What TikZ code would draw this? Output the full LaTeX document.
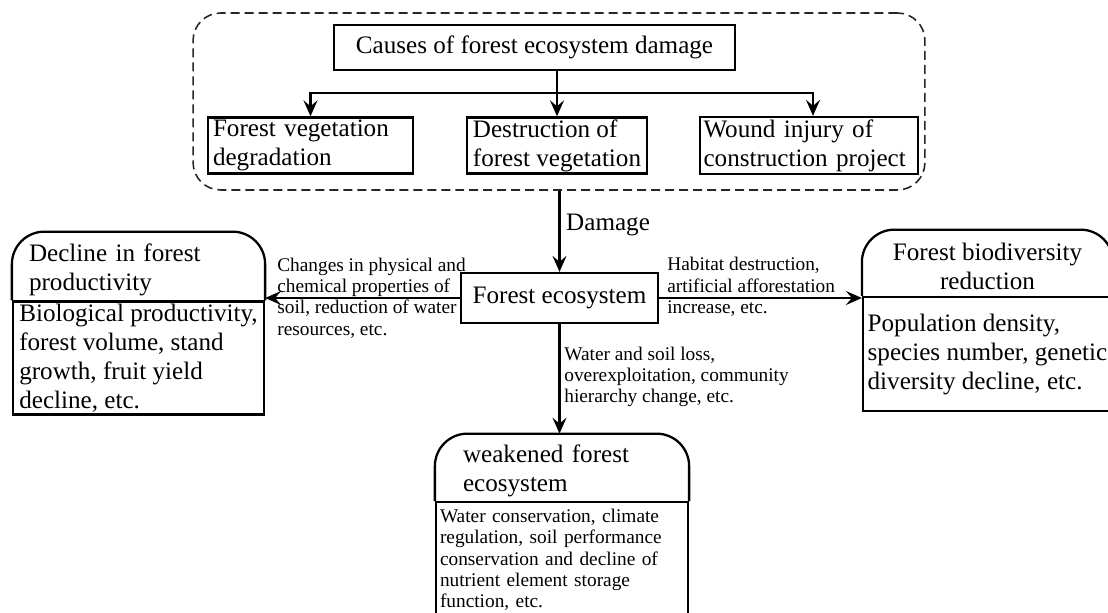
\documentclass[tikz,border=0pt]{standalone}
\usepackage{fontspec}
\setmainfont{Liberation Serif}
\usepackage{tikz}
\usetikzlibrary{arrows.meta}
\usetikzlibrary{positioning}
\tikzset{
  BigText/.style={font=\fontsize{14.3}{16.5}\selectfont},
  SmallText/.style={font=\fontsize{11}{12.1}\selectfont},
  BoxLine/.style={draw=black, line width=1.3pt},
  MyBox/.style={
    rectangle, BoxLine, fill=white,
    BigText, align=left,
  },
  MyHead/.style={
    rectangle, BigText, inner ysep=0.05cm,
  },
  MyGroup/.style={
    rectangle, rounded corners=0.55cm,
    draw=black!85, line width=0.9pt,
    dash pattern=on 0.18cm off 0.1cm,
  },
  MyArrow/.style={
    -{Stealth[length=0.32cm, width=0.28cm, inset=0.12cm]},
    draw=black, line width=1.2pt,
  },
  MyLabel/.style={SmallText, align=left, inner sep=0pt, anchor=west},
}

\begin{document}
\begin{tikzpicture}[x=0.02cm, y=-0.02cm]
\useasboundingbox (0,0) rectangle (1108,612);
\clip (0,0) rectangle (1108,612);
\node[MyGroup, minimum width=14.64cm, minimum height=3.54cm] (CAUSEGRP) at (559,101.5) {};
\node[MyBox, minimum width=8.02cm, minimum height=0.9cm, align=center] (CAUSES) at (534.5,47.5) {Causes of forest ecosystem damage};
\node[MyBox, minimum width=4.1cm, minimum height=1.1cm, text width=3.9cm, inner xsep=0.1cm, inner ysep=0.05cm] (DEGRAD) at (310.5,145.5) {Forest vegetation\\degradation};
\node[MyBox, minimum width=3.6cm, minimum height=1.1cm, inner sep=0.04cm] (DESTR) at (557,145.5) {Destruction of\\forest vegetation};
\node[MyBox, minimum width=4.36cm, minimum height=1.1cm, text width=4.22cm, inner xsep=0.07cm, inner ysep=0.05cm] (WOUND) at (809,145.5) {Wound injury of\\construction project};
\coordinate (BRANCH) at (557,93);
\node[BigText, anchor=west] (DAMAGE) at (560,225) {Damage};
\node[MyLabel] (SOILTXT) at (277,298) {Changes in physical and\\chemical properties of\\soil, reduction of water\\resources, etc.};
\node[MyLabel] (HABTXT) at (667,287) {Habitat destruction,\\artificial afforestation\\increase, etc.};
\node[MyLabel] (LOSSTXT) at (564,377) {Water and soil loss,\\overexploitation, community\\hierarchy change, etc.};
\node[MyBox, minimum width=3.94cm, minimum height=1cm, align=center] (ECO) at (559.5,298) {Forest ecosystem};
\node[MyHead, minimum width=5.02cm, minimum height=1.52cm, text width=4.38cm, inner xsep=0.32cm, align=left] (DECLHEAD) at (138.5,270) {Decline in forest\\productivity};
\node[MyBox, minimum width=5.02cm, minimum height=2.26cm, inner ysep=0.02cm] (DECLBODY) at (138.5,358) {Biological productivity,\\forest volume, stand\\growth, fruit yield\\decline, etc.};
\draw[BoxLine, rounded corners=0.65cm] (DECLBODY.north west) |- (DECLHEAD.north) -| (DECLBODY.north east);
\node[MyHead, minimum width=4.98cm, minimum height=1.46cm, align=center] (BIOHEAD) at (987.5,266.5) {Forest biodiversity\\reduction};
\node[MyBox, minimum width=4.98cm, minimum height=2.28cm, inner xsep=0.02cm, inner ysep=0.02cm] (BIOBODY) at (987.5,354) {Population density,\\species number, genetic\\diversity decline, etc.};
\draw[BoxLine, rounded corners=0.65cm] (BIOBODY.north west) |- (BIOHEAD.north) -| (BIOBODY.north east);
\node[MyHead, minimum width=5.04cm, minimum height=1.46cm, text width=3.96cm, inner xsep=0.54cm, align=left] (WEAKHEAD) at (562,470.5) {weakened forest\\ecosystem};
\node[MyBox, SmallText, anchor=north, minimum width=5.04cm, text width=4.88cm, inner xsep=0.08cm, inner ysep=0.14cm] (WEAKBODY) at (562,501) {Water conservation, climate\\regulation, soil performance\\conservation and decline of\\nutrient element storage\\function, etc.};
\draw[BoxLine, rounded corners=0.65cm] (WEAKBODY.north west) |- (WEAKHEAD.north) -| (WEAKBODY.north east);
\draw[MyArrow] (CAUSES.south -| DESTR.north) -- (DESTR.north);
\draw[MyArrow] (BRANCH) -| (DEGRAD.north);
\draw[MyArrow] (BRANCH) -| ([xshift=0.08cm]WOUND.north);
\draw[MyArrow] (CAUSEGRP.south -| ECO.north) -- (ECO.north);
\draw[MyArrow] (ECO.west) -- (ECO.west -| DECLBODY.east);
\draw[MyArrow] (ECO.east) -- (ECO.east -| BIOBODY.west);
\draw[MyArrow] (ECO.south) -- (ECO.south |- WEAKHEAD.north);
\end{tikzpicture}
\end{document}
